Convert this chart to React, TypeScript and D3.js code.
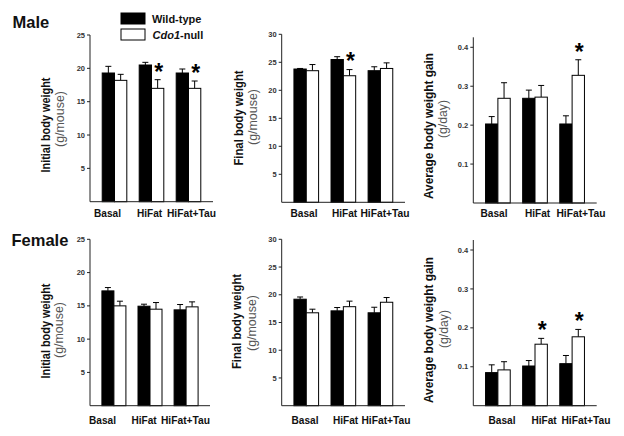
import React from "react";
import * as d3 from "d3";

// ---------- DATA ----------
const categories = ["Basal", "HiFat", "HiFat+Tau"];

const maleInitialWT = [19.3, 20.5, 19.3];
const maleInitialWTsem = [1.0, 0.4, 0.6];
const maleInitialNull = [18.2, 17.0, 17.0];
const maleInitialNullSem = [0.9, 1.3, 1.1];
const maleInitialSig = [false, true, true];

const maleFinalWT = [23.8, 25.5, 23.5];
const maleFinalWTsem = [0.1, 0.5, 0.7];
const maleFinalNull = [23.5, 22.6, 23.9];
const maleFinalNullSem = [1.1, 1.1, 1.0];
const maleFinalSig = [false, true, false];

const maleGainWT = [0.203, 0.269, 0.203];
const maleGainWTsem = [0.019, 0.021, 0.021];
const maleGainNull = [0.269, 0.272, 0.328];
const maleGainNullSem = [0.04, 0.03, 0.04];
const maleGainSig = [false, false, true];

const femaleInitialWT = [17.25, 14.95, 14.4];
const femaleInitialWTsem = [0.5, 0.3, 0.8];
const femaleInitialNull = [15.0, 14.5, 14.85];
const femaleInitialNullSem = [0.7, 1.0, 0.75];
const femaleInitialSig = [false, false, false];

const femaleFinalWT = [19.2, 17.1, 16.75];
const femaleFinalWTsem = [0.4, 0.6, 1.0];
const femaleFinalNull = [16.75, 17.85, 18.65];
const femaleFinalNullSem = [0.65, 1.0, 0.85];
const femaleFinalSig = [false, false, false];

const femaleGainWT = [0.085, 0.102, 0.108];
const femaleGainWTsem = [0.02, 0.014, 0.021];
const femaleGainNull = [0.092, 0.158, 0.177];
const femaleGainNullSem = [0.021, 0.015, 0.019];
const femaleGainSig = [false, true, true];

const weightTicks = [5, 10, 15, 20, 25];
const finalTicks = [5, 10, 15, 20, 25, 30];
const gainTicks = [0.1, 0.2, 0.3, 0.4];

const seriesNames = ["Wild-type", "Cdo1-null"];
const rowTitles = ["Male", "Female"];

// ---------- LAYOUT ----------
const FONT = "'Liberation Sans', Arial, Helvetica, sans-serif";
const catEm: Record<string, number> = { Basal: 2.668, HiFat: 2.5, "HiFat+Tau": 4.862 };

type Panel = {
  wt: number[]; wtSem: number[]; nul: number[]; nulSem: number[]; sig: boolean[];
  domain: [number, number]; ticks: number[]; fmt: (v: number) => string;
  x0: number; x1: number; yBottom: number; yTop: number;
  label: string; labelLen: number; labelX: number; labelY: number;
  sub: string; subLen: number; subX: number; subY: number;
  catStart: number; catStep: number; catBase: number;
};

const intFmt = (v: number) => String(v);
const decFmt = d3.format(".1f");

const panels: Panel[] = [
  { wt: maleInitialWT, wtSem: maleInitialWTsem, nul: maleInitialNull, nulSem: maleInitialNullSem, sig: maleInitialSig,
    domain: [0, 25], ticks: weightTicks, fmt: intFmt, x0: 90, x1: 213, yBottom: 201.7, yTop: 35,
    label: "Initial body weight", labelLen: 95, labelX: 45.5, labelY: 125, sub: "(g/mouse)", subLen: 56, subX: 59.5, subY: 119,
    catStart: 107.5, catStep: 42, catBase: 217 },
  { wt: maleFinalWT, wtSem: maleFinalWTsem, nul: maleFinalNull, nulSem: maleFinalNullSem, sig: maleFinalSig,
    domain: [0, 30], ticks: finalTicks, fmt: intFmt, x0: 281.7, x1: 405, yBottom: 202.3, yTop: 34.3,
    label: "Final body weight", labelLen: 95, labelX: 238.5, labelY: 118, sub: "(g/mouse)", subLen: 56, subX: 252.5, subY: 117,
    catStart: 304, catStep: 40.5, catBase: 217 },
  { wt: maleGainWT, wtSem: maleGainWTsem, nul: maleGainNull, nulSem: maleGainNullSem, sig: maleGainSig,
    domain: [0, 0.4257], ticks: gainTicks, fmt: decFmt, x0: 473.3, x1: 596.7, yBottom: 203, yTop: 37.3,
    label: "Average body weight gain", labelLen: 146, labelX: 428, labelY: 126, sub: "(g/day)", subLen: 38, subX: 443, subY: 119,
    catStart: 494, catStep: 43.5, catBase: 217 },
  { wt: femaleInitialWT, wtSem: femaleInitialWTsem, nul: femaleInitialNull, nulSem: femaleInitialNullSem, sig: femaleInitialSig,
    domain: [0, 25], ticks: weightTicks, fmt: intFmt, x0: 90, x1: 210, yBottom: 405.7, yTop: 239.3,
    label: "Initial body weight", labelLen: 95, labelX: 45, labelY: 331, sub: "(g/mouse)", subLen: 56, subX: 59, subY: 330,
    catStart: 102.5, catStep: 41.5, catBase: 424 },
  { wt: femaleFinalWT, wtSem: femaleFinalWTsem, nul: femaleFinalNull, nulSem: femaleFinalNullSem, sig: femaleFinalSig,
    domain: [0, 30], ticks: finalTicks, fmt: intFmt, x0: 281.7, x1: 405, yBottom: 405.7, yTop: 239.3,
    label: "Final body weight", labelLen: 95, labelX: 236.7, labelY: 321.5, sub: "(g/mouse)", subLen: 56, subX: 252, subY: 323,
    catStart: 305, catStep: 40.5, catBase: 424 },
  { wt: femaleGainWT, wtSem: femaleGainWTsem, nul: femaleGainNull, nulSem: femaleGainNullSem, sig: femaleGainSig,
    domain: [0, 0.4257], ticks: gainTicks, fmt: decFmt, x0: 473.3, x1: 596.7, yBottom: 405.7, yTop: 240,
    label: "Average body weight gain", labelLen: 146, labelX: 428, labelY: 330, sub: "(g/day)", subLen: 38, subX: 444, subY: 329,
    catStart: 502, catStep: 42, catBase: 424 },
];

function PanelView({ p }: { p: Panel }) {
  const x = d3.scaleBand<string>().domain(categories).range([p.x0, p.x1]).paddingInner(0.335).paddingOuter(0.33);
  const sub = d3.scaleBand<string>().domain(["wt", "null"]).range([0, x.bandwidth()]);
  const y = d3.scaleLinear().domain(p.domain).range([p.yBottom, p.yTop]);
  const bw = sub.bandwidth();
  const cap = 3;
  const axisColor = "#222";

  const bars: React.ReactNode[] = [];
  categories.forEach((c, i) => {
    const groups = [
      { key: "wt", v: p.wt[i], e: p.wtSem[i], fill: "#000" },
      { key: "null", v: p.nul[i], e: p.nulSem[i], fill: "#fff" },
    ];
    groups.forEach((g) => {
      const bx = (x(c) as number) + (sub(g.key) as number);
      const cx = bx + bw / 2;
      const top = y(g.v);
      const et = y(g.v + g.e);
      bars.push(
        <g key={c + g.key}>
          <line x1={cx} x2={cx} y1={top} y2={et} stroke="#000" strokeWidth={1} />
          <line x1={cx - cap} x2={cx + cap} y1={et} y2={et} stroke="#000" strokeWidth={1} />
          <rect x={bx} y={top} width={bw} height={p.yBottom - top} fill={g.fill} stroke="#000" strokeWidth={1} />
        </g>
      );
      if (g.key === "null" && p.sig[i]) {
        const fs = 23;
        bars.push(
          <text key={c + "sig"} x={cx + 1} y={et - 13 + 0.56 * fs} fontSize={fs} fontWeight="bold" textAnchor="middle" fontFamily={FONT} fill="#000">*</text>
        );
      }
    });
  });

  return (
    <g>
      {bars}
      <line x1={p.x0} x2={p.x0} y1={p.yTop} y2={p.yBottom} stroke={axisColor} strokeWidth={1} />
      <line x1={p.x0} x2={p.x1} y1={p.yBottom} y2={p.yBottom} stroke={axisColor} strokeWidth={1} />
      {p.ticks.map((t) => (
        <g key={t}>
          <line x1={p.x0 - 3} x2={p.x0} y1={y(t)} y2={y(t)} stroke={axisColor} strokeWidth={1} />
          <text x={p.x0 - 5} y={y(t)} dy="0.35em" fontSize={7.5} fontWeight="bold" textAnchor="end" fill="#333" fontFamily={FONT}>{p.fmt(t)}</text>
        </g>
      ))}
      {categories.map((c, i) => (
        <text key={c} x={p.catStart + i * p.catStep} y={p.catBase} fontSize={11.5} fontWeight="bold" textAnchor="middle" fill="#111" fontFamily={FONT}
          textLength={catEm[c] * 10.1} lengthAdjust="spacingAndGlyphs">{c}</text>
      ))}
      <text transform={`translate(${p.labelX},${p.labelY}) rotate(-90)`} dy="0.35em" fontSize={13} fontWeight="bold" textAnchor="middle"
        textLength={p.labelLen} lengthAdjust="spacingAndGlyphs" fill="#111" fontFamily={FONT}>{p.label}</text>
      <text transform={`translate(${p.subX},${p.subY}) rotate(-90)`} dy="0.35em" fontSize={12} textAnchor="middle"
        textLength={p.subLen} lengthAdjust="spacingAndGlyphs" fill="#555" fontFamily={FONT}>{p.sub}</text>
    </g>
  );
}

export default function App() {
  return (
    <svg width={624} height={436} style={{ position: "absolute", left: 0, top: 0, background: "#fff" }} fontFamily={FONT}>
      <rect x={0} y={0} width={624} height={436} fill="#fff" />
      <text x={12.5} y={28.3} fontSize={16.5} fontWeight="bold" fill="#111">{rowTitles[0]}</text>
      <text x={11.5} y={246} fontSize={16.5} fontWeight="bold" fill="#111">{rowTitles[1]}</text>
      {/* legend */}
      <rect x={121} y={13} width={24} height={11} fill="#000" stroke="#000" />
      <rect x={121} y={29} width={24} height={11} fill="#fff" stroke="#000" />
      <text x={152} y={22.7} fontSize={11} fontWeight="bold" fill="#111">{seriesNames[0]}</text>
      <text x={152.5} y={38.5} fontSize={11} fontWeight="bold" fill="#111">
        <tspan fontStyle="italic">{seriesNames[1].split("-")[0]}</tspan>
        <tspan>{"-" + seriesNames[1].split("-")[1]}</tspan>
      </text>
      {panels.map((p, i) => (
        <PanelView key={i} p={p} />
      ))}
    </svg>
  );
}
